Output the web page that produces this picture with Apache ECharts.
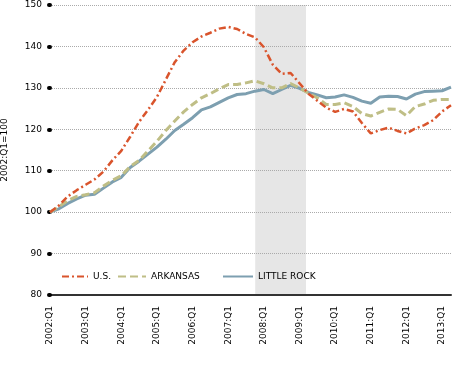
<!DOCTYPE html>
<html>
<head>
<meta charset="utf-8">
<script src="https://cdn.jsdelivr.net/npm/echarts@6/dist/echarts.min.js"></script>
<style>html,body{margin:0;padding:0;background:#fff;}#c{width:454px;height:365px;}</style>
</head>
<body>
<div id="c"></div>
<script>
// Quarterly index values, 2002:Q1 ... 2013:Q2 (2002:Q1 = 100)
const tickLabels = ['2002:Q1','2003:Q1','2004:Q1','2005:Q1','2006:Q1','2007:Q1','2008:Q1','2009:Q1','2010:Q1','2011:Q1','2012:Q1','2013:Q1'];
const usValues = [100, 101.6, 103.8, 105.3, 106.6, 107.9, 109.8, 112.5, 114.8, 118.2, 121.8, 124.7, 127.8, 132, 136.2, 139, 141, 142.4, 143.3, 144.3, 144.7, 144.2, 143, 142.2, 139.8, 135.6, 133.4, 133.6, 131.1, 128.6, 126.9, 125.2, 124.2, 124.9, 124.3, 121.5, 119, 119.8, 120.4, 119.6, 119, 120.2, 121, 122.2, 124.3, 125.8];
const arValues = [100, 101.3, 102.8, 103.8, 104.2, 104.7, 106.3, 107.7, 108.8, 111, 112.5, 114.8, 117.1, 119.7, 122, 124.2, 126, 127.6, 128.6, 129.8, 130.8, 130.8, 131.2, 131.7, 131, 130, 130, 131, 130, 128.7, 127.6, 126, 126, 126.4, 125.5, 123.8, 123.2, 124.1, 124.9, 124.8, 123.3, 125.5, 126.1, 127, 127.2, 127.2];
const lrValues = [100, 100.8, 102.1, 103.2, 104.1, 104.3, 105.8, 107.3, 108.4, 110.8, 112.3, 114, 115.7, 117.6, 119.7, 121.2, 122.8, 124.7, 125.4, 126.5, 127.6, 128.4, 128.6, 129.2, 129.6, 128.6, 129.6, 130.6, 129.9, 128.9, 128.3, 127.6, 127.8, 128.3, 127.7, 126.8, 126.3, 127.8, 128, 127.9, 127.3, 128.5, 129.1, 129.2, 129.3, 130.2];
const seriesNames = ['U.S.', 'ARKANSAS', 'LITTLE ROCK'];
// recession shading, in quarters since 2002:Q1 (Dec 2007 – Jun 2009)
const recession = [23.03, 28.73];

const pairs = arr => arr.map((v, i) => [i, v]);
const FONT = 'DejaVu Sans';
const legendBase = {top: 272, padding: 0, itemHeight: 8, itemGap: 0,
  itemStyle: {opacity: 0, borderWidth: 0},
  textStyle: {fontFamily: FONT, fontSize: 9, color: '#000'}};

const chart = echarts.init(document.getElementById('c'), null, {renderer: 'canvas'});
chart.setOption({
  animation: false,
  backgroundColor: '#fff',
  grid: {left: 50, right: 3, top: 5, bottom: 70, containLabel: false, outerBoundsMode: 'none'},
  xAxis: {
    type: 'value', min: 0, max: 45, interval: 4, z: 2,
    axisLine: {show: true, onZero: false, lineStyle: {color: '#333', width: 2}},
    axisTick: {show: false},
    splitLine: {show: false},
    axisLabel: {
      rotate: 90, margin: 11, fontFamily: FONT, fontSize: 9, color: '#000',
      formatter: v => (v % 4 === 0 ? (tickLabels[v / 4] || '') : '')
    }
  },
  yAxis: {
    type: 'value', min: 80, max: 150, interval: 10, z: 2,
    name: '2002:Q1=100', nameLocation: 'middle', nameGap: 41,
    nameTextStyle: {fontFamily: FONT, fontSize: 9, color: '#000'},
    axisLine: {show: false},
    axisTick: {show: true, length: 1, lineStyle: {color: '#000', width: 4, cap: 'round'}},
    axisLabel: {margin: 8, fontFamily: FONT, fontSize: 9, color: '#000'},
    splitLine: {show: true, lineStyle: {color: '#aaa', width: 1, type: [1, 1]}}
  },
  legend: [
    Object.assign({data: [seriesNames[0]], left: 61, itemWidth: 26}, legendBase),
    Object.assign({data: [seriesNames[1]], left: 117, itemWidth: 28}, legendBase),
    Object.assign({data: [seriesNames[2]], left: 222, itemWidth: 30}, legendBase)
  ],
  series: [
    {
      name: seriesNames[2], type: 'line', data: pairs(lrValues), symbol: 'none', z: 3,
      color: '#7d9fb0',
      lineStyle: {color: '#7d9fb0', width: 3},
      markArea: {
        silent: true, z: 1,
        itemStyle: {color: '#e6e6e6'},
        data: [[{xAxis: recession[0]}, {xAxis: recession[1]}]]
      }
    },
    {
      name: seriesNames[1], type: 'line', data: pairs(arValues), symbol: 'none', z: 4,
      color: '#bfbe86',
      lineStyle: {color: '#bfbe86', width: 3, type: [8, 4]}
    },
    {
      name: seriesNames[0], type: 'line', data: pairs(usValues), symbol: 'none', z: 5,
      color: '#d9542c',
      lineStyle: {color: '#d9542c', width: 2.5, type: [7, 3, 2, 3]}
    }
  ]
});
</script>
</body>
</html>
